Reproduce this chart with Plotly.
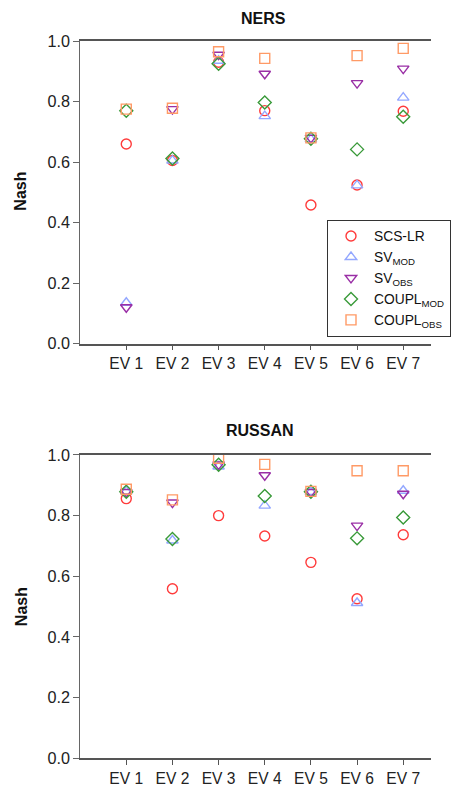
import plotly.graph_objects as go

categories = ["EV 1", "EV 2", "EV 3", "EV 4", "EV 5", "EV 6", "EV 7"]
series_names = ["SCS-LR", "SV<sub>MOD</sub>", "SV<sub>OBS</sub>",
                "COUPL<sub>MOD</sub>", "COUPL<sub>OBS</sub>"]

ners_scs = [0.66, 0.605, 0.93, 0.77, 0.458, 0.524, 0.768]
ners_sv_mod = [0.135, 0.605, 0.935, 0.752, 0.675, 0.523, 0.813]
ners_sv_obs = [0.12, 0.775, 0.955, 0.892, 0.68, 0.861, 0.909]
ners_coupl_mod = [0.77, 0.612, 0.925, 0.797, 0.677, 0.642, 0.75]
ners_coupl_obs = [0.775, 0.778, 0.965, 0.943, 0.68, 0.952, 0.976]

russan_scs = [0.856, 0.559, 0.80, 0.733, 0.646, 0.526, 0.737]
russan_sv_mod = [0.88, 0.718, 0.962, 0.833, 0.878, 0.512, 0.882]
russan_sv_obs = [0.878, 0.843, 0.969, 0.933, 0.878, 0.767, 0.872]
russan_coupl_mod = [0.879, 0.723, 0.968, 0.865, 0.879, 0.725, 0.794]
russan_coupl_obs = [0.887, 0.852, 0.989, 0.969, 0.88, 0.948, 0.948]

y_ticks = [0.0, 0.2, 0.4, 0.6, 0.8, 1.0]

symbols = ["circle-open", "triangle-up-open", "triangle-down-open",
           "diamond-open", "square-open"]
colors = ["#ff3b3b", "#94a8ff", "#9a2fa6", "#3a9a3a", "#ff9a66"]

xpos = list(range(1, len(categories) + 1))

W, H = 451, 790
SX, OX = 0.98, -3.5
SY, OY = 0.98, 7.8


# layout helpers: target picture pixel -> paper fraction
def LX(p):
    return (p - OX) / SX


def PX(p):
    return LX(p) / W


def PY(p):
    return 1 - (p - OY) / SY / H


# x scale: category 1 at pixel 126, category 7 at pixel 410
step = (LX(410) - LX(126)) / 6
x0_px = LX(126) - step
x_range = [(LX(79) - x0_px) / step, (W - x0_px) / step]

fig = go.Figure()

panels = [
    ("x", "y", [ners_scs, ners_sv_mod, ners_sv_obs, ners_coupl_mod, ners_coupl_obs], True),
    ("x2", "y2", [russan_scs, russan_sv_mod, russan_sv_obs, russan_coupl_mod, russan_coupl_obs], False),
]
for xa, ya, data, show in panels:
    for name, vals, sym, col in zip(series_names, data, symbols, colors):
        fig.add_trace(go.Scatter(
            x=xpos, y=vals, mode="markers", name=name, xaxis=xa, yaxis=ya,
            showlegend=show,
            marker=dict(symbol=sym, size=10, color=col, line=dict(color=col, width=1.4)),
        ))

xdom = [PX(79), 1.0]
top_dom = [PY(343.3), PY(40)]
bot_dom = [PY(759.3), PY(455)]

FONT = "Liberation Sans, Arial, sans-serif"


def xaxis(anchor):
    return dict(domain=xdom, anchor=anchor, range=x_range,
                tickvals=xpos, ticktext=categories, showline=True, mirror=True,
                linecolor="#555", linewidth=1.5, ticks="outside", ticklen=5,
                tickcolor="#555", showgrid=False, zeroline=False,
                tickfont=dict(family=FONT, size=15.6, color="#222"))


def yaxis(anchor, dom):
    return dict(domain=dom, anchor=anchor, range=[0, 1.0], tickvals=y_ticks,
                tickformat=".1f", showline=True, linecolor="#666", linewidth=1.2,
                ticks="outside", ticklen=6, tickcolor="#666", showgrid=False,
                zeroline=False, tickfont=dict(family=FONT, size=16.2, color="#222"))


title_font = dict(family=FONT, size=16, color="#111")
fig.update_layout(
    width=W, height=H,
    margin=dict(l=0, r=0, t=0, b=0),
    paper_bgcolor="white", plot_bgcolor="white",
    xaxis=xaxis("y"), yaxis=yaxis("x", top_dom),
    xaxis2=xaxis("y2"), yaxis2=yaxis("x2", bot_dom),
    legend=dict(x=PX(332), y=PY(219), xanchor="left", yanchor="top",
                bordercolor="#333", borderwidth=1, bgcolor="white",
                font=dict(family=FONT, size=13.8, color="#111"),
                tracegroupgap=0, itemwidth=36),
    annotations=[
        dict(text="<b>NERS</b>", x=PX(267), y=PY(17), xref="paper", yref="paper",
             xanchor="center", yanchor="middle", showarrow=False, font=title_font),
        dict(text="<b>RUSSAN</b>", x=PX(263), y=PY(430), xref="paper", yref="paper",
             xanchor="center", yanchor="middle", showarrow=False, font=title_font),
        dict(text="<b>Nash</b>", x=PX(18), y=PY(190), xref="paper", yref="paper",
             xanchor="center", yanchor="middle", textangle=-90, showarrow=False,
             font=title_font),
        dict(text="<b>Nash</b>", x=PX(18), y=PY(606.7), xref="paper", yref="paper",
             xanchor="center", yanchor="middle", textangle=-90, showarrow=False,
             font=title_font),
    ],
)

post = ("document.body.style.margin='0';"
        "var d=document.getElementById('{plot_id}');"
        "d.style.position='fixed';d.style.left='0px';d.style.top='0px';")

fig.write_html("out.html", config={"displayModeBar": False, "responsive": False},
               post_script=post)
